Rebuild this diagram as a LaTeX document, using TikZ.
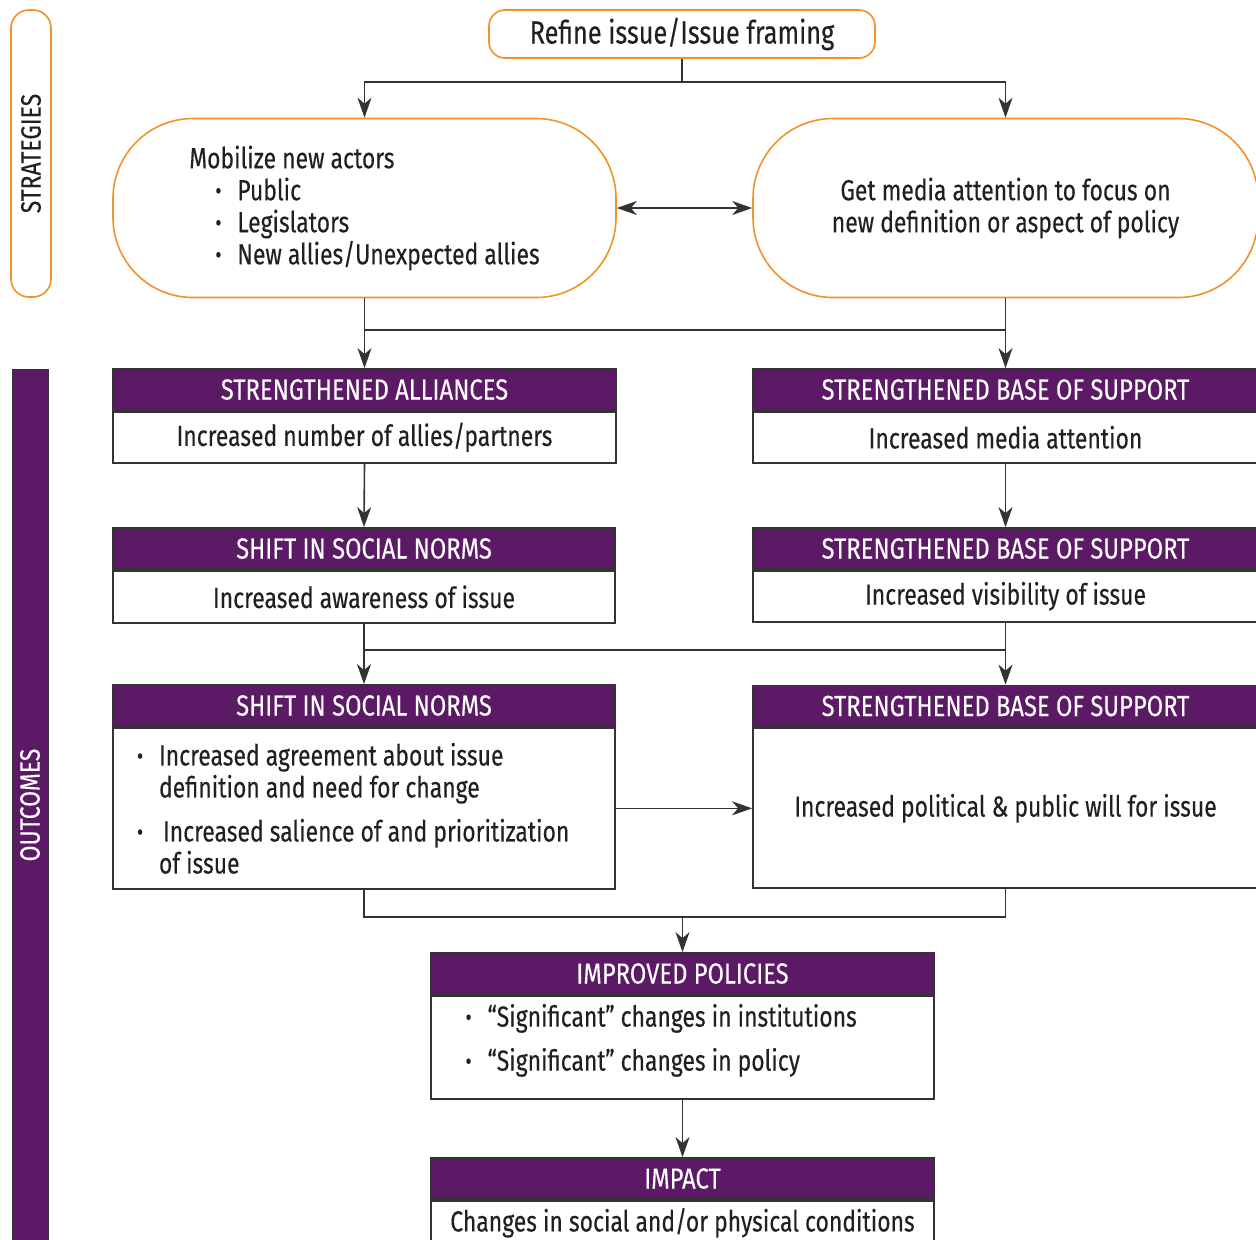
\documentclass[tikz,border=0pt]{standalone}
\usepackage{fontspec}
\setmainfont{Fira Sans}[FakeStretch=0.79, FakeBold=0.3]
\newfontfamily\capsfont{Fira Sans}[FakeStretch=0.82, FakeBold=0.2]
\usetikzlibrary{arrows.meta}
\definecolor{plum}{HTML}{5C1A66}
\definecolor{tangerine}{HTML}{F39129}
\definecolor{ink}{HTML}{231F20}
\definecolor{rule}{HTML}{333333}
\newcommand{\sbul}{\makebox[11pt][l]{\raisebox{0.6pt}{\fontsize{12}{12}\selectfont •}}}
\newcommand{\bul}{\hspace*{13pt}\sbul}

\begin{document}
\begin{tikzpicture}[x=0.5pt, y=-0.5pt, font=\fontsize{14.5}{16}\selectfont, text=ink,
    strat/.style={draw=tangerine, line width=0.8pt, rounded corners=40pt,
      minimum width=251.5pt, minimum height=89.5pt},
    head/.style={draw=rule, fill=plum, text=white, line width=0.9pt,
      minimum width=251.5pt, minimum height=20.5pt, inner sep=0pt,
      font=\capsfont\fontsize{14.5}{16}\selectfont},
    body/.style={draw=rule, line width=0.9pt, minimum width=251.5pt,
      minimum height=25.5pt, inner sep=0pt, anchor=north},
    list/.style={align=flush left, execute at begin node={\spaceskip=0pt\xspaceskip=0pt}},
    conn/.style={draw=rule, line width=0.8pt},
    arr/.style={conn, -{Stealth[length=10pt, width=7pt, inset=3pt]}}]
  \useasboundingbox (0,0) rectangle (1256,1239);
  \clip (0,0) rectangle (1256,1239);

  % side labels
  \node[draw=tangerine, line width=0.8pt, rounded corners=9pt, rotate=90,
    minimum width=143.5pt, minimum height=20pt, font=\capsfont\fontsize{14}{16}\selectfont]
    (stratlbl) at (31,153.5) {STRATEGIES};
  \node[fill=plum, draw=rule, line width=0.5pt, rotate=90, text=white,
    minimum width=436pt, minimum height=18pt, font=\capsfont\fontsize{14}{16}\selectfont]
    (outlbl) at (30,805) {OUTCOMES};

  % strategies
  \node[strat, minimum width=193pt, minimum height=24pt, rounded corners=8pt,
    font=\fontsize{16}{18}\selectfont] (refine) at (682,34) {Refine issue/Issue framing};
  \node[strat, align=left] (mob) at (364.5,208) {Mobilize new actors\\
    \bul Public\\ \bul Legislators\\ \bul New allies/Unexpected allies};
  \node[strat, minimum width=252.5pt, align=center] (media) at (1005.5,208)
    {Get media attention to focus on\\new definition or aspect of policy};

  % outcomes
  \node[head] (sa) at (364.5,389.5) {STRENGTHENED ALLIANCES};
  \node[body] (sab) at (sa.south) {Increased number of allies/partners};
  \node[head, minimum width=252.5pt] (sbs1) at (1005.5,389.5) {STRENGTHENED BASE OF SUPPORT};
  \node[body, minimum width=252.5pt] (sbs1b) at (sbs1.south) {Increased media attention};

  \node[head, minimum width=251pt] (ssn1) at (364,548.5) {SHIFT IN SOCIAL NORMS};
  \node[body, minimum width=251pt, minimum height=26pt] (ssn1b) at (ssn1.south) {Increased awareness of issue};
  \node[head, minimum width=252.5pt] (sbs2) at (1005.5,548.5) {STRENGTHENED BASE OF SUPPORT};
  \node[body, minimum width=252.5pt] (sbs2b) at (sbs2.south) {Increased visibility of issue};

  \node[head, minimum width=251pt] (ssn2) at (364,705.5) {SHIFT IN SOCIAL NORMS};
  \node[body, list, minimum width=251pt, minimum height=80.5pt, text width=227pt,
    inner xsep=12pt] (ssn2b) at (ssn2.south)
    {\sbul Increased agreement about issue\\
     \hspace*{11pt}definition and need for change\\[6pt]
     \sbul\hspace{2pt}Increased salience of and prioritization\\
     \hspace*{11pt}of issue};
  \node[head, minimum width=252.5pt] (sbs3) at (1005.5,706) {STRENGTHENED BASE OF SUPPORT};
  \node[body, minimum width=252.5pt, minimum height=80pt] (sbs3b) at (sbs3.south)
    {Increased political \& public will for issue};

  \node[head] (ip) at (682.5,973.5) {IMPROVED POLICIES};
  \node[body, list, minimum height=51.5pt, text width=217pt, inner xsep=17pt,
    text depth=32pt] (ipb) at (ip.south)
    {\sbul ``Significant'' changes in institutions\\[6pt]
     \sbul ``Significant'' changes in policy};
  \node[head] (imp) at (682.5,1178.5) {IMPACT};
  \node[body, minimum height=22pt] (impb) at (imp.south) {Changes in social and/or physical conditions};

  % connectors
  \coordinate (j1) at (0,330);
  \coordinate (j2) at (0,650);
  \coordinate (j3) at (0,917);
  \draw[arr] (refine.south) -- ++(0,23) -| (mob.north);
  \draw[arr] (refine.south) -- ++(0,23) -| (media.north);
  \draw[conn, {Stealth[length=10pt, width=7pt, inset=3pt]}-{Stealth[length=10pt, width=7pt, inset=3pt]}]
    (mob.east) -- (media.west);
  \draw[arr] (mob.south) -- (sa.north);
  \draw[arr] (media.south) -- (sbs1.north);
  \draw[conn] (mob.south |- j1) -- (media.south |- j1);
  \draw[arr] (sab.south) -- (ssn1.north);
  \draw[arr] (sbs1b.south) -- (sbs2.north);
  \draw[arr] (ssn1b.south) -- (ssn2.north);
  \draw[arr] (sbs2b.south) -- (sbs3.north);
  \draw[conn] (ssn1b.south |- j2) -- (sbs2b.south |- j2);
  \draw[arr] (ssn2b.east) -- (sbs3b.west);
  \draw[conn] (ssn2b.south) -- (ssn2b.south |- j3) -| (sbs3b.south);
  \draw[arr] (ip.north |- j3) -- (ip.north);
  \draw[arr] (ipb.south) -- (imp.north);
\end{tikzpicture}
\end{document}
